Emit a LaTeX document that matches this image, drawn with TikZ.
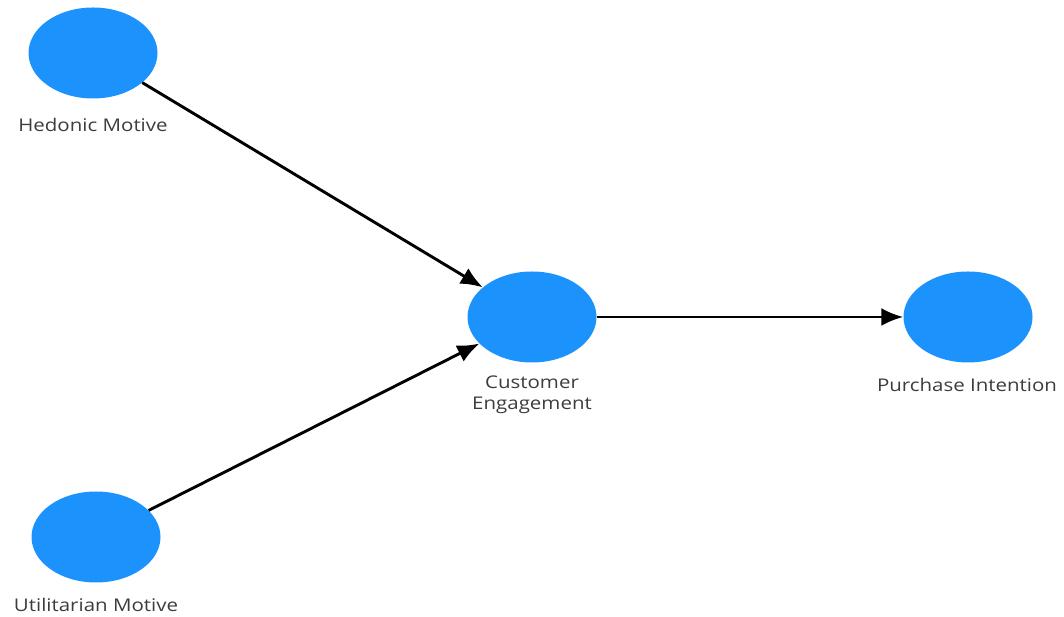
\documentclass[tikz,border=0pt]{standalone}
\usepackage{fontspec}
\setmainfont{Open Sans}
\usetikzlibrary{shapes.geometric,arrows.meta}
\definecolor{construct}{RGB}{28,146,252}
\definecolor{labeltext}{RGB}{60,60,60}
\tikzset{
  latent/.style={ellipse, fill=construct, draw=none, minimum width=129pt, minimum height=91pt, inner sep=0pt},
  caption/.style={text=labeltext, font=\fontsize{17.5}{21}\selectfont, align=center, inner sep=0pt, xscale=1.17, transform shape},
  path/.style={line width=2.9pt, black, -{Latex[length=22pt,width=18pt]}}
}
\begin{document}
\begin{tikzpicture}[x=1pt,y=1pt]
  \useasboundingbox (0,0) rectangle (1064,617);
  % constructs
  \node[latent] (hm) at (93,564) {};
  \node[latent] (um) at (96,80) {};
  \node[latent] (ce) at (532,300) {};
  \node[latent] (pi) at (968,300) {};
  % construct names
  \node[caption] (hml) at (93,492) {Hedonic Motive};
  \node[caption] (uml) at (96,12) {Utilitarian Motive};
  \node[caption] (cel) at (532,222) {Customer\\Engagement};
  \node[caption] (pil) at (967,232) {Purchase Intention};
  % structural paths
  \draw[path] (hm) -- (ce);
  \draw[path] (um) -- (ce);
  \draw[path] (ce) -- (pi);
\end{tikzpicture}
\end{document}
